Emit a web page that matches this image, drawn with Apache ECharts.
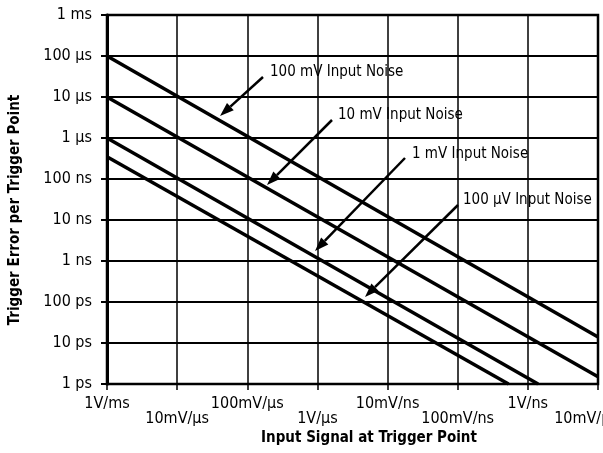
<!DOCTYPE html>
<html>
<head>
<meta charset="utf-8">
<script src="https://cdn.jsdelivr.net/npm/echarts@6/dist/echarts.min.js"></script>
<style>
  html, body { margin: 0; padding: 0; background: #fff; }
  #chart { width: 603px; height: 453px; }
</style>
</head>
<body>
<div id="chart"></div>
<script>
// slope axis (V/s), one label per decade from 1V/ms to 10mV/ps
const xTickLabels = ['1V/ms', '10mV/\u00b5s', '100mV/\u00b5s', '1V/\u00b5s', '10mV/ns', '100mV/ns', '1V/ns', '10mV/ps'];
// error axis (s), one label per decade from 1 ps to 1 ms
const yTickLabels = ['1 ps', '10 ps', '100 ps', '1 ns', '10 ns', '100 ns', '1 \u00b5s', '10 \u00b5s', '100 \u00b5s', '1 ms'];

// each noise line: [slope V/s, error s]
const noise100mV = [[1e3, 1e-4], [1e10, 1.4e-11]];
const noise10mV = [[1e3, 1e-5], [1e10, 1.5e-12]];
const noise1mV = [[1e3, 1e-6], [1.4e9, 1e-12]];
const noise100uV = [[1e3, 3.5e-7], [5.3e8, 1e-12]];

const noiseNames = ['100 mV Input Noise', '10 mV Input Noise', '1 mV Input Noise', '100 \u00b5V Input Noise'];

const FONT = "'Liberation Sans Narrow', 'DejaVu Sans Condensed', sans-serif";

const chart = echarts.init(document.getElementById('chart'), null, { renderer: 'canvas' });

// annotation arrows: label at [x,y], arrow from start to tip (pixels)
const notes = [
  { text: noiseNames[0], at: [270, 75], from: [263, 77], tip: [220, 116] },
  { text: noiseNames[1], at: [338, 118], from: [332, 120], tip: [267, 185] },
  { text: noiseNames[2], at: [412, 157], from: [405, 158], tip: [315, 251] },
  { text: noiseNames[3], at: [463, 203], from: [458, 205], tip: [365, 297] }
];

const arrowGraphics = [];
notes.forEach(n => {
  arrowGraphics.push({
    type: 'text', left: n.at[0], top: n.at[1] - 10, z: 10,
    style: { text: n.text, font: '15px ' + FONT, fill: '#000' }
  });
  const dx = n.tip[0] - n.from[0], dy = n.tip[1] - n.from[1];
  const len = Math.sqrt(dx * dx + dy * dy);
  const ux = dx / len, uy = dy / len;
  const hl = 14, hw = 5;
  const bx = n.tip[0] - ux * hl, by = n.tip[1] - uy * hl;
  arrowGraphics.push({
    type: 'line', z: 10,
    shape: { x1: n.from[0], y1: n.from[1], x2: bx, y2: by },
    style: { stroke: '#000', lineWidth: 2.5 }
  });
  arrowGraphics.push({
    type: 'polygon', z: 10,
    shape: { points: [[n.tip[0], n.tip[1]], [bx - uy * hw, by + ux * hw], [bx + uy * hw, by - ux * hw]] },
    style: { fill: '#000' }
  });
});

arrowGraphics.push({
  type: 'text', x: 369, y: 438, z: 10,
  style: { text: 'Input Signal at Trigger Point', font: 'bold 15px ' + FONT, fill: '#000', align: 'center', verticalAlign: 'middle' }
});
arrowGraphics.push({
  type: 'text', x: 15, y: 210, rotation: Math.PI / 2, z: 10,
  style: { text: 'Trigger Error per Trigger Point', font: 'bold 15px ' + FONT, fill: '#000', align: 'center', verticalAlign: 'middle' }
});

const lineSeries = (name, data) => ({
  name: name,
  type: 'line',
  data: data,
  symbol: 'none',
  lineStyle: { color: '#000', width: 3.5 },
  clip: true,
  silent: true
});

const option = {
  animation: false,
  backgroundColor: '#fff',
  grid: {
    left: 107, right: 5, top: 15, bottom: 69,
    containLabel: false,
    outerBoundsMode: 'none',
    show: true, borderColor: '#000', borderWidth: 2.5
  },
  xAxis: {
    type: 'log',
    logBase: 10,
    min: 1e3,
    max: 1e10,
    splitNumber: 7,
    axisLine: { lineStyle: { color: '#000', width: 2 } },
    axisTick: { show: true, length: 6, lineStyle: { color: '#000', width: 1.5 } },
    minorTick: { show: false },
    splitLine: { show: true, lineStyle: { color: '#000', width: 1.5 } },
    axisLabel: {
      margin: 12,
      showMinLabel: true,
      showMaxLabel: true,
      hideOverlap: false,
      formatter: function (v) {
        const i = Math.round(Math.log10(v)) - 3;
        const s = xTickLabels[i] || '';
        if (i === xTickLabels.length - 1) return '{end|' + s + '}';
        return i % 2 === 0 ? '{hi|' + s + '}' : '{lo|' + s + '}';
      },
      rich: {
        hi: { fontFamily: FONT, fontSize: 16, color: '#000' },
        lo: { fontFamily: FONT, fontSize: 16, color: '#000', padding: [15, 0, 0, 0] },
        end: { fontFamily: FONT, fontSize: 16, color: '#000', padding: [15, 24, 0, 0] }
      }
    }
  },
  yAxis: {
    type: 'log',
    logBase: 10,
    min: 1e-12,
    max: 1e-3,
    splitNumber: 9,
    axisLine: { lineStyle: { color: '#000', width: 3 } },
    axisTick: { show: true, length: 6, lineStyle: { color: '#000', width: 2 } },
    minorTick: { show: false },
    splitLine: { show: true, lineStyle: { color: '#000', width: 2 } },
    axisLabel: {
      margin: 15,
      color: '#000',
      fontFamily: FONT,
      fontSize: 16,
      formatter: function (v) {
        const i = Math.round(Math.log10(v)) + 12;
        return yTickLabels[i] || '';
      }
    }
  },
  series: [
    lineSeries(noiseNames[0], noise100mV),
    lineSeries(noiseNames[1], noise10mV),
    lineSeries(noiseNames[2], noise1mV),
    lineSeries(noiseNames[3], noise100uV)
  ],
  graphic: arrowGraphics
};

chart.setOption(option);
</script>
</body>
</html>
